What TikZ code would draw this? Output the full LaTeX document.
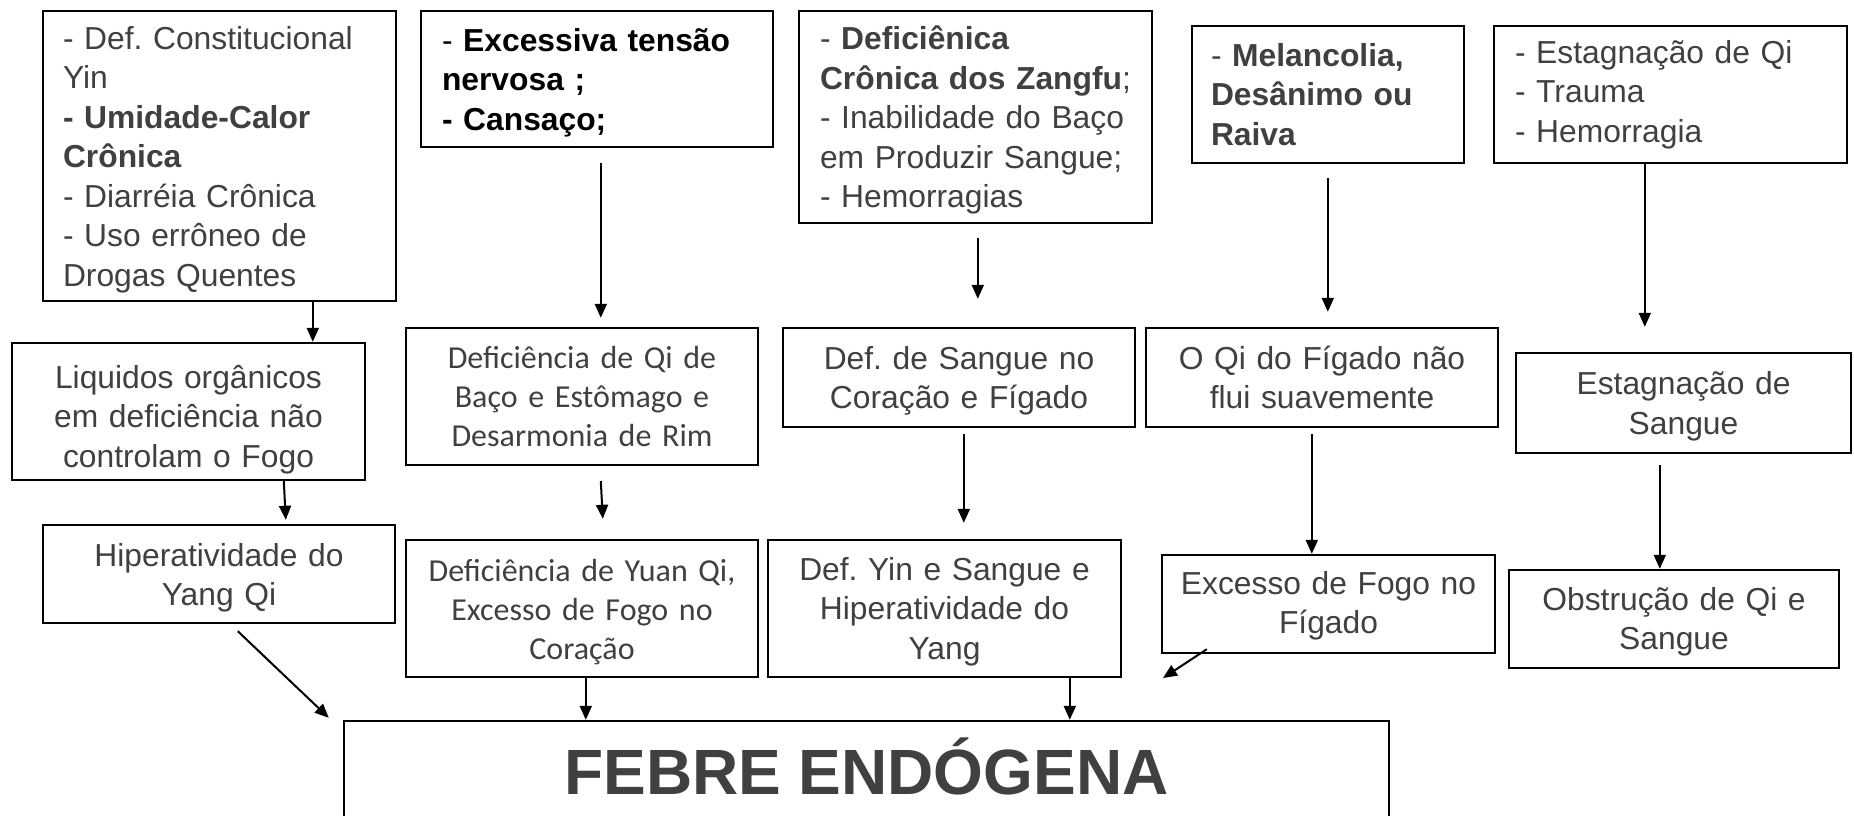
\documentclass[tikz,border=0pt]{standalone}
\usepackage{fontspec}
\setmainfont{Liberation Sans}
\newfontfamily\calib{Carlito}
\usetikzlibrary{arrows.meta}
\definecolor{txt}{HTML}{404040}
\frenchspacing
\begin{document}
\begin{tikzpicture}[x=1pt,y=-1pt,
  box/.style={draw=black, line width=2.4pt, inner sep=0pt, text=txt, font=\frenchspacing\fontsize{31.8}{39.5}\selectfont},
  lbox/.style={box, align=left},
  cbox/.style={box, align=center},
  cal/.style={font=\frenchspacing\calib\fontsize{32}{39}\selectfont},
  dn/.style={execute at begin node={\rule{0pt}{#1}}},
  arr/.style={line width=2pt, -{Triangle[length=14pt,width=12pt]}},
]
\useasboundingbox (0,0) rectangle (1854,815);
\clip (0,0) rectangle (1854,815);

% top row
\node[lbox, dn=30pt, minimum width=353pt, minimum height=290pt, text width=313pt] (A) at (219.5,156)
  {- Def. Constitucional\\Yin\\\textbf{- Umidade-Calor}\\\textbf{Crônica}\\- Diarréia Crônica\\- Uso errôneo de\\Drogas Quentes};
\node[lbox, dn=30pt, text=black, minimum width=352pt, minimum height=136pt, text width=310pt] (B) at (597,79)
  {- \textbf{Excessiva tensão}\\\textbf{nervosa ;}\\\textbf{- Cansaço;}};
\node[lbox, dn=30pt, minimum width=353pt, minimum height=212pt, text width=311pt] (C) at (975.5,117)
  {- \textbf{Deficiênica}\\\textbf{Crônica dos Zangfu};\\- Inabilidade do Baço\\em Produzir Sangue;\\- Hemorragias};
\node[lbox, minimum width=272pt, minimum height=137pt, text width=234pt] (D) at (1328,94.5)
  {- \textbf{Melancolia,}\\\textbf{Desânimo ou}\\\textbf{Raiva}};
\node[lbox, minimum width=353pt, minimum height=137pt, text width=311pt] (E) at (1670.5,94.5)
  {- Estagnação de Qi\\- Trauma\\- Hemorragia};

% second row
\node[cbox, dn=39pt, minimum width=353pt, minimum height=137pt, text width=333pt] (F) at (188.5,411.5)
  {Liquidos orgânicos\\em deficiência não\\controlam o Fogo};
\node[cbox, cal, minimum width=352pt, minimum height=137pt, text width=332pt] (G) at (582,396.5)
  {Deficiência de Qi de\\Baço e Estômago e\\Desarmonia de Rim};
\node[cbox, dn=30pt, minimum width=352pt, minimum height=99pt, text width=332pt] (H) at (959,377.5)
  {Def. de Sangue no\\Coração e Fígado};
\node[cbox, minimum width=352pt, minimum height=99pt, text width=332pt] (I) at (1322,377.5)
  {O Qi do Fígado não\\flui suavemente};
\node[cbox, dn=30pt, minimum width=335pt, minimum height=100pt, text width=315pt] (J) at (1683.5,403)
  {Estagnação de\\Sangue};

% third row
\node[cbox, dn=31pt, minimum width=352pt, minimum height=98pt, text width=332pt] (K) at (219,574)
  {Hiperatividade do\\Yang Qi};
\node[cbox, cal, dn=30pt, minimum width=352pt, minimum height=137pt, text width=332pt] (L) at (582,608.5)
  {Deficiência de Yuan Qi,\\Excesso de Fogo no\\Coração};
\node[cbox, dn=29pt, minimum width=353pt, minimum height=137pt, text width=333pt] (M) at (944.5,608.5)
  {Def. Yin e Sangue e\\Hiperatividade do\\Yang};
\node[cbox, dn=27pt, minimum width=333pt, minimum height=98pt, text width=313pt] (N) at (1328.5,604)
  {Excesso de Fogo no\\Fígado};
\node[cbox, dn=29pt, minimum width=330pt, minimum height=98pt, text width=310pt] (O) at (1674,619)
  {Obstrução de Qi e\\Sangue};

% bottom
\node[box, minimum width=1045pt, minimum height=100pt, font=\fontsize{64}{70}\selectfont\bfseries,
  text height=46pt, text depth=0pt] (P) at (866.5,771) {FEBRE ENDÓGENA};

\coordinate (Nend) at (1163,678);

% connectors
\draw[arr] ([xshift=271pt]A.south west) -- ([xshift=302pt]F.north west);
\draw[arr] ([xshift=181pt,yshift=-15pt]B.south west) -- ([xshift=196pt,yshift=9pt]G.north west);
\draw[arr] ([xshift=180pt,yshift=-14pt]C.south west) -- ([xshift=196pt,yshift=28pt]H.north west);
\draw[arr] ([xshift=137pt,yshift=-14pt]D.south west) -- ([xshift=183pt,yshift=15pt]I.north west);
\draw[arr] ([xshift=152pt]E.south west) -- ([xshift=130pt,yshift=25pt]J.north west);

\draw[arr] ([xshift=273pt]F.south west) -- ([xshift=244pt,yshift=4pt]K.north west);
\draw[arr] ([xshift=196pt,yshift=-15pt]G.south west) -- ([xshift=198pt,yshift=20pt]L.north west);
\draw[arr] ([xshift=182pt,yshift=-6pt]H.south west) -- ([xshift=197pt,yshift=16pt]M.north west);
\draw[arr] ([xshift=167pt,yshift=-6pt]I.south west) -- ([xshift=151pt]N.north west);
\draw[arr] ([xshift=145pt,yshift=-11pt]J.south west) -- ([xshift=152pt]O.north west);

\draw[arr] ([xshift=196pt,yshift=-7pt]K.south west) -- ([xshift=-14pt,yshift=2pt]P.north west);
\draw[arr] ([xshift=181pt]L.south west) -- ([xshift=243pt]P.north west);
\draw[arr] ([xshift=303pt]M.south west) -- ([xshift=727pt]P.north west);
\draw[arr] ([xshift=46pt,yshift=5pt]N.south west) -- (Nend);
\end{tikzpicture}
\end{document}
